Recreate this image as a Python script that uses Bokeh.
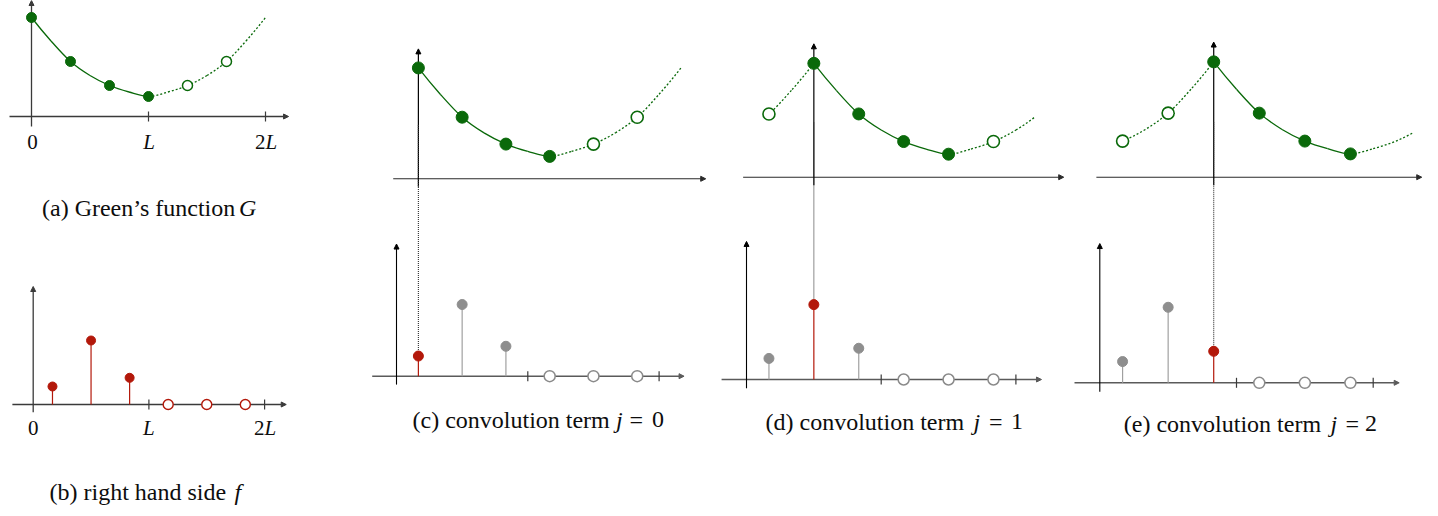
import numpy as np
from bokeh.plotting import figure
from bokeh.models import Range1d, Arrow, NormalHead
from bokeh.core.properties import value
from bokeh.embed import file_html
from bokeh.resources import INLINE

# ---------------- data (x in units of L) ----------------
G_node_x = [0.0, 1 / 3, 2 / 3, 1.0]               # nodes of the Green's function
G_node_val = [0.99, 0.55, 0.31, 0.20]
G_curve_x = [0.0, 1 / 6, 2 / 6, 3 / 6, 4 / 6, 5 / 6, 1.0]   # curve read-off points
G_curve_val = [0.99, 0.755, 0.55, 0.41, 0.31, 0.245, 0.20]
f_x = [1 / 6, 1 / 2, 5 / 6]                       # right hand side samples
f_val = [0.18, 0.64, 0.267]
pad_x = [7 / 6, 3 / 2, 11 / 6]                     # zero padding samples
pad_val = [0.0, 0.0, 0.0]
tick_x = [1.0, 2.0]
conv_j = [0, 1, 2]
caption_main = ["(a) Green\u2019s function", "(b) right hand side",
                "(c) convolution term", "(d) convolution term", "(e) convolution term"]
caption_math = ["G", "f", "j", "j", "j"]
caption_rhs = ["0", "1", "2"]

# ---------------- styles / layout ----------------
GREEN = "#0a690a"
RED = "#b3180a"
GRAY_DOT = "#8e8e8e"
GRAY_STEM = "#a0a0a0"
GRAY_OPEN = "#8a8a8a"
TXT = "#0d0d0d"
FONT = "Liberation Serif"
DOTTED = "2 2"
CAP_SIZE = "24px"

X0, X1, Y0, Y1 = 0, 1422, 0, 508
p = figure(width=X1 - X0, height=Y1 - Y0, output_backend="svg", toolbar_location=None,
           x_range=Range1d(X0, X1), y_range=Range1d(Y1, Y0),
           x_axis_location=None, y_axis_location=None, min_border=0,
           outline_line_color=None, background_fill_color="white",
           border_fill_color="white")
p.xgrid.visible = False
p.ygrid.visible = False

PAN_A = dict(ox=31, sx=117, oy=116, sy=100)
PAN_B = dict(ox=32.7, sx=115.7, oy=404, sy=100)
COLS = [dict(ox=396, sx=131.3, oyt=178.3, syt=112, oyb=375.7, syb=112, end=2.0),
        dict(ox=746, sx=134.7, oyt=176.7, syt=115, oyb=379, syb=117, end=1.643),
        dict(ox=1099.3, sx=136.7, oyt=176.7, syt=116.5, oyb=382.3, syb=118, end=1.457)]

xr = {"a": Range1d((X0 - PAN_A["ox"]) / PAN_A["sx"], (X1 - PAN_A["ox"]) / PAN_A["sx"]),
      "b": Range1d((X0 - PAN_B["ox"]) / PAN_B["sx"], (X1 - PAN_B["ox"]) / PAN_B["sx"])}
yr = {"a": Range1d((PAN_A["oy"] - Y1) / PAN_A["sy"], (PAN_A["oy"] - Y0) / PAN_A["sy"]),
      "b": Range1d((PAN_B["oy"] - Y1) / PAN_B["sy"], (PAN_B["oy"] - Y0) / PAN_B["sy"])}
for j, c in zip(conv_j, COLS):
    xr[f"c{j}"] = Range1d((X0 - c["ox"]) / c["sx"], (X1 - c["ox"]) / c["sx"])
    yr[f"t{j}"] = Range1d((c["oyt"] - Y1) / c["syt"], (c["oyt"] - Y0) / c["syt"])
    yr[f"b{j}"] = Range1d((c["oyb"] - Y1) / c["syb"], (c["oyb"] - Y0) / c["syb"])
p.extra_x_ranges = xr
p.extra_y_ranges = yr


def axis_arrow(x0, y0, x1, y1, xn, yn, color, width):
    p.add_layout(Arrow(end=NormalHead(size=5, line_color=color, fill_color=color, line_width=1),
                       x_start=x0, y_start=y0, x_end=x1, y_end=y1,
                       line_color=color, line_width=width,
                       x_range_name=xn, y_range_name=yn, level="underlay"))


def spline_segments(xs, ys):
    xs = np.asarray(xs, float)
    ys = np.asarray(ys, float)

    def tang(a):
        m = np.empty_like(a)
        m[1:-1] = (a[2:] - a[:-2]) / 2
        m[0] = (-3 * a[0] + 4 * a[1] - a[2]) / 2
        m[-1] = (3 * a[-1] - 4 * a[-2] + a[-3]) / 2
        return m

    mx, my = tang(xs), tang(ys)
    segs = []
    for i in range(len(xs) - 1):
        segs.append([np.array([xs[i], ys[i]]),
                     np.array([xs[i] + mx[i] / 3, ys[i] + my[i] / 3]),
                     np.array([xs[i + 1] - mx[i + 1] / 3, ys[i + 1] - my[i + 1] / 3]),
                     np.array([xs[i + 1], ys[i + 1]])])
    return segs


def split_left(seg, t):
    P0, P1, P2, P3 = seg
    A = P0 + (P1 - P0) * t
    B = P1 + (P2 - P1) * t
    C = P2 + (P3 - P2) * t
    D = A + (B - A) * t
    E = B + (C - B) * t
    F = D + (E - D) * t
    return [P0, A, D, F]


# branches of the (even, mirrored about L) Green's function
right_x = list(G_curve_x) + [2 - x for x in reversed(G_curve_x[:-1])]
right_y = list(G_curve_val) + list(reversed(G_curve_val[:-1]))
left_x = [-x for x in G_curve_x]
left_y = list(G_curve_val)
RIGHT = spline_segments(right_x, right_y)
LEFT = spline_segments(left_x, left_y)


def draw_curve(shift, lo, hi, xn, yn):
    solid, dotted = [], []
    for s in RIGHT:
        xa, xb = s[0][0], s[3][0]
        if xa >= hi - 1e-9:
            break
        if xb > hi + 1e-9:
            s = split_left(s, (hi - xa) / (xb - xa))
        (solid if xb <= 1 + 1e-9 else dotted).append(s)
    for s in LEFT:
        if s[0][0] <= lo + 1e-9:
            break
        dotted.append(s)
    for segs, dash in ((solid, "solid"), (dotted, DOTTED)):
        if not segs:
            continue
        p.bezier(x0=[s[0][0] + shift for s in segs], y0=[s[0][1] for s in segs],
                 cx0=[s[1][0] + shift for s in segs], cy0=[s[1][1] for s in segs],
                 cx1=[s[2][0] + shift for s in segs], cy1=[s[2][1] for s in segs],
                 x1=[s[3][0] + shift for s in segs], y1=[s[3][1] for s in segs],
                 line_color=GREEN, line_width=1.3, line_dash=value(dash),
                 x_range_name=xn, y_range_name=yn)


def text(x, y, s, xn="default", size="21px", italic=False, align="left"):
    p.text(x=x, y=y, text=s, x_range_name=xn, text_font=value(FONT),
           text_font_size=size, text_font_style="italic" if italic else "normal",
           text_align=align, text_baseline="alphabetic", text_color=TXT)


# ================= panel (a): Green's function =================
axis_arrow(-0.188, 0, 2.197, 0, "a", "a", "#3a3a3a", 1.3)
axis_arrow(0, -0.10, 0, 1.16, "a", "a", "#3a3a3a", 1.3)
p.segment(x0=tick_x, y0=[-5 / PAN_A["sy"]] * 2, x1=tick_x, y1=[5 / PAN_A["sy"]] * 2,
          line_color="#3a3a3a", line_width=1.2, x_range_name="a", y_range_name="a")
draw_curve(0.0, 0.0, 2.0, "a", "a")
p.scatter(x=G_node_x, y=G_node_val, size=10, fill_color=GREEN, line_color=GREEN,
          x_range_name="a", y_range_name="a")
mir_x = [2 - x for x in G_node_x[1:3]]
mir_y = [G_node_val[1], G_node_val[2]]
p.scatter(x=mir_x, y=mir_y, size=10, fill_color="white", line_color=GREEN, line_width=1.5,
          x_range_name="a", y_range_name="a")
text([0.008], [141.5], ["0"], xn="a", align="center")
text([1.005], [141.5], ["L"], xn="a", italic=True, align="center")
text([2.0], [141.5], ["2"], xn="a", align="right")
text([2.0], [141.5], ["L"], xn="a", italic=True, align="left")
text([41.5], [207], [caption_main[0]], size=CAP_SIZE)
text([238.5], [207], [caption_math[0]], size=CAP_SIZE, italic=True)

# ================= panel (b): right hand side =================
axis_arrow(-0.18, 0, 2.187, 0, "b", "b", "#3a3a3a", 1.3)
axis_arrow(0, -0.077, 0, 1.18, "b", "b", "#3a3a3a", 1.3)
p.segment(x0=tick_x, y0=[-5 / PAN_B["sy"]] * 2, x1=tick_x, y1=[5 / PAN_B["sy"]] * 2,
          line_color="#3a3a3a", line_width=1.2, x_range_name="b", y_range_name="b")
p.segment(x0=f_x, y0=[0] * 3, x1=f_x, y1=f_val, line_color=RED, line_width=1.2,
          x_range_name="b", y_range_name="b")
p.scatter(x=f_x, y=f_val, size=9, fill_color=RED, line_color=RED,
          x_range_name="b", y_range_name="b")
p.scatter(x=pad_x, y=pad_val, size=10, fill_color="white", line_color=RED, line_width=1.4,
          x_range_name="b", y_range_name="b")
text([0.0], [427], ["0"], xn="b", align="center")
text([1.0], [427], ["L"], xn="b", italic=True, align="center")
text([2.0], [427], ["2"], xn="b", align="right")
text([2.0], [427], ["L"], xn="b", italic=True, align="left")
text([49], [491], [caption_main[1]], size=CAP_SIZE)
text([234], [491], [caption_math[1]], size=CAP_SIZE, italic=True)

# ================= panels (c)-(e): convolution terms =================
grid_x = list(f_x) + list(pad_x)
cap_pos = [(412, 615.5, 629, 651.5, 419), (765, 973, 988.5, 1010.5, 421),
           (1123.3, 1330, 1345, 1364.5, 423)]
for j, c in zip(conv_j, COLS):
    xn, tn, bn = f"c{j}", f"t{j}", f"b{j}"
    xj = f_x[j]
    # connector from the shifted Green's function down to the sample f_j
    top_screen = c["oyt"] - 0.48 * c["syt"]
    p.segment(x0=[xj], y0=[f_val[j]], x1=[xj], y1=[(c["oyb"] - top_screen) / c["syb"]],
              line_color="#2e2e2e", line_width=1.1, line_dash=value("1 1"),
              x_range_name=xn, y_range_name=bn)
    # ---- top: shifted Green's function ----
    axis_arrow(-0.025, 0, 2.355, 0, xn, tn, "#2a2a2a", 1.1)
    axis_arrow(xj, -0.07, xj, 1.16, xn, tn, "black", 1.2)
    draw_curve(xj, -j / 3, c["end"], xn, tn)
    fx, fy, ox_, oy_ = [], [], [], []
    for k, gx in enumerate(grid_x):
        d = k - j
        v = G_node_val[abs(d)] if abs(d) <= 3 else G_node_val[6 - abs(d)]
        if 0 <= d <= 3:
            fx.append(gx); fy.append(v)
        else:
            ox_.append(gx); oy_.append(v)
    p.scatter(x=fx, y=fy, size=12, fill_color=GREEN, line_color=GREEN,
              x_range_name=xn, y_range_name=tn)
    p.scatter(x=ox_, y=oy_, size=12, fill_color="white", line_color=GREEN, line_width=1.6,
              x_range_name=xn, y_range_name=tn)
    # ---- bottom: samples of f ----
    axis_arrow(-0.185, 0, 2.19, 0, xn, bn, "#5a5a5a", 1.6)
    axis_arrow(0, -0.075, 0, 1.18, xn, bn, "black", 1.1)
    p.segment(x0=tick_x, y0=[-5 / c["syb"]] * 2, x1=tick_x, y1=[5 / c["syb"]] * 2,
              line_color="#3a3a3a", line_width=1.2, x_range_name=xn, y_range_name=bn)
    stem_col = [RED if i == j else GRAY_STEM for i in range(3)]
    dot_col = [RED if i == j else GRAY_DOT for i in range(3)]
    p.segment(x0=f_x, y0=[0] * 3, x1=f_x, y1=f_val, line_color=stem_col, line_width=1.2,
              x_range_name=xn, y_range_name=bn)
    p.scatter(x=f_x, y=f_val, size=10, fill_color=dot_col, line_color=dot_col,
              x_range_name=xn, y_range_name=bn)
    p.scatter(x=pad_x, y=pad_val, size=11, fill_color="white", line_color=GRAY_OPEN,
              line_width=1.5, x_range_name=xn, y_range_name=bn)
    # ---- caption ----
    sx0, sxj, sxeq, sxd, base = cap_pos[j]
    text([sx0], [base], [caption_main[2 + j]], size=CAP_SIZE)
    text([sxj], [base], [caption_math[2 + j]], size=CAP_SIZE, italic=True)
    text([sxeq], [base], ["="], size=CAP_SIZE)
    text([sxd], [base], [caption_rhs[j]], size=CAP_SIZE)

open("out.html", "w").write(file_html(p, INLINE))
